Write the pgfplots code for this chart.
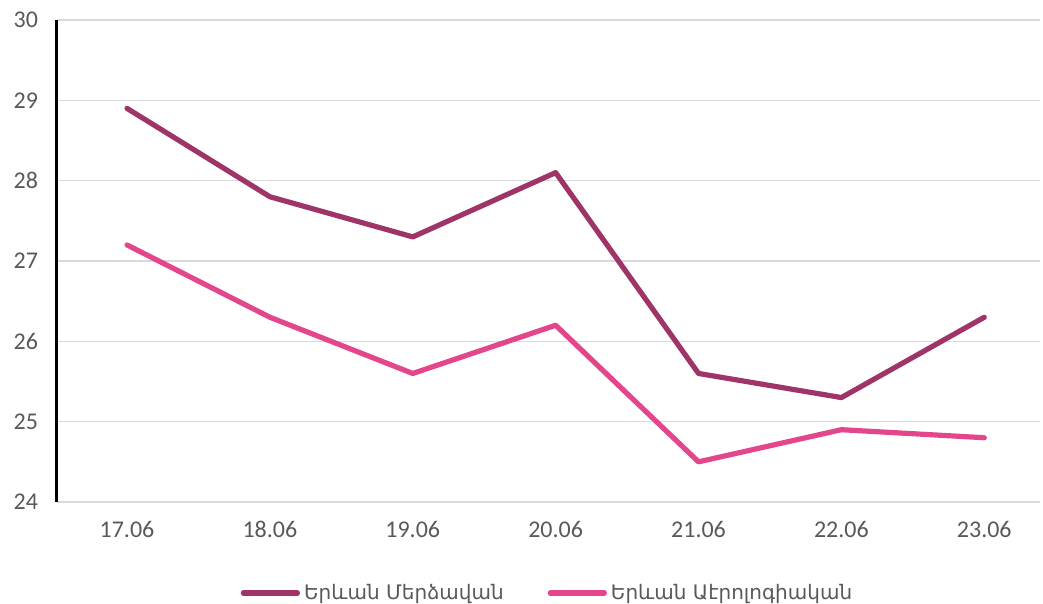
\documentclass[border=0pt]{standalone}
\usepackage{fontspec}
\setmainfont{Carlito}
\newfontfamily\armfont{DejaVu Sans}
\usepackage{pgfplots}
\pgfplotsset{compat=1.18}
\definecolor{ser1}{HTML}{9E3468}
\definecolor{ser2}{HTML}{E3468A}
\definecolor{gridc}{HTML}{D9D9D9}
\definecolor{txt}{HTML}{595959}
\begin{document}
\begin{tikzpicture}
\useasboundingbox (-28.5pt,-51pt) rectangle (493pt,251pt);
\begin{axis}[
  at={(0,0)}, anchor=south west,
  scale only axis, width=491.5pt, height=241pt,
  xmin=-0.49, xmax=6.39, ymin=24, ymax=30,
  clip=false,
  xtick={0,...,6},
  xticklabels={17.06,18.06,19.06,20.06,21.06,22.06,23.06},
  ytick={24,...,30},
  ymajorgrids, grid style={gridc, line width=0.8pt},
  major tick length=0pt,
  axis line style={draw=none},
  tick label style={font=\fontsize{12}{14}\selectfont, text=txt},
  /pgf/number format/assume math mode=true,
  yticklabel style={xshift=-6pt},
  xticklabel style={yshift=-6pt},
  legend style={at={(0.5,0)}, anchor=center, yshift=-45.5pt, draw=none, fill=none,
    legend columns=2, font=\armfont\fontsize{10}{12}\selectfont, text=txt,
    /tikz/every even column/.append style={column sep=20pt}},
  legend image code/.code={\draw[#1, line cap=round] (0pt,0pt) -- (27pt,0pt);},
]
\draw[black, line width=1.5pt] (axis cs:-0.49,24) -- (axis cs:-0.49,30);
\addplot[ser1, line width=2.6pt, line join=round, line cap=round] coordinates {
(0,28.9) (1,27.8) (2,27.3) (3,28.1) (4,25.6) (5,25.3) (6,26.3)};
\addlegendentry{Երևան Մերձավան}
\addplot[ser2, line width=2.6pt, line join=round, line cap=round] coordinates {
(0,27.2) (1,26.3) (2,25.6) (3,26.2) (4,24.5) (5,24.9) (6,24.8)};
\addlegendentry{Երևան Աէրոլոգիական}
\end{axis}
\end{tikzpicture}
\end{document}
